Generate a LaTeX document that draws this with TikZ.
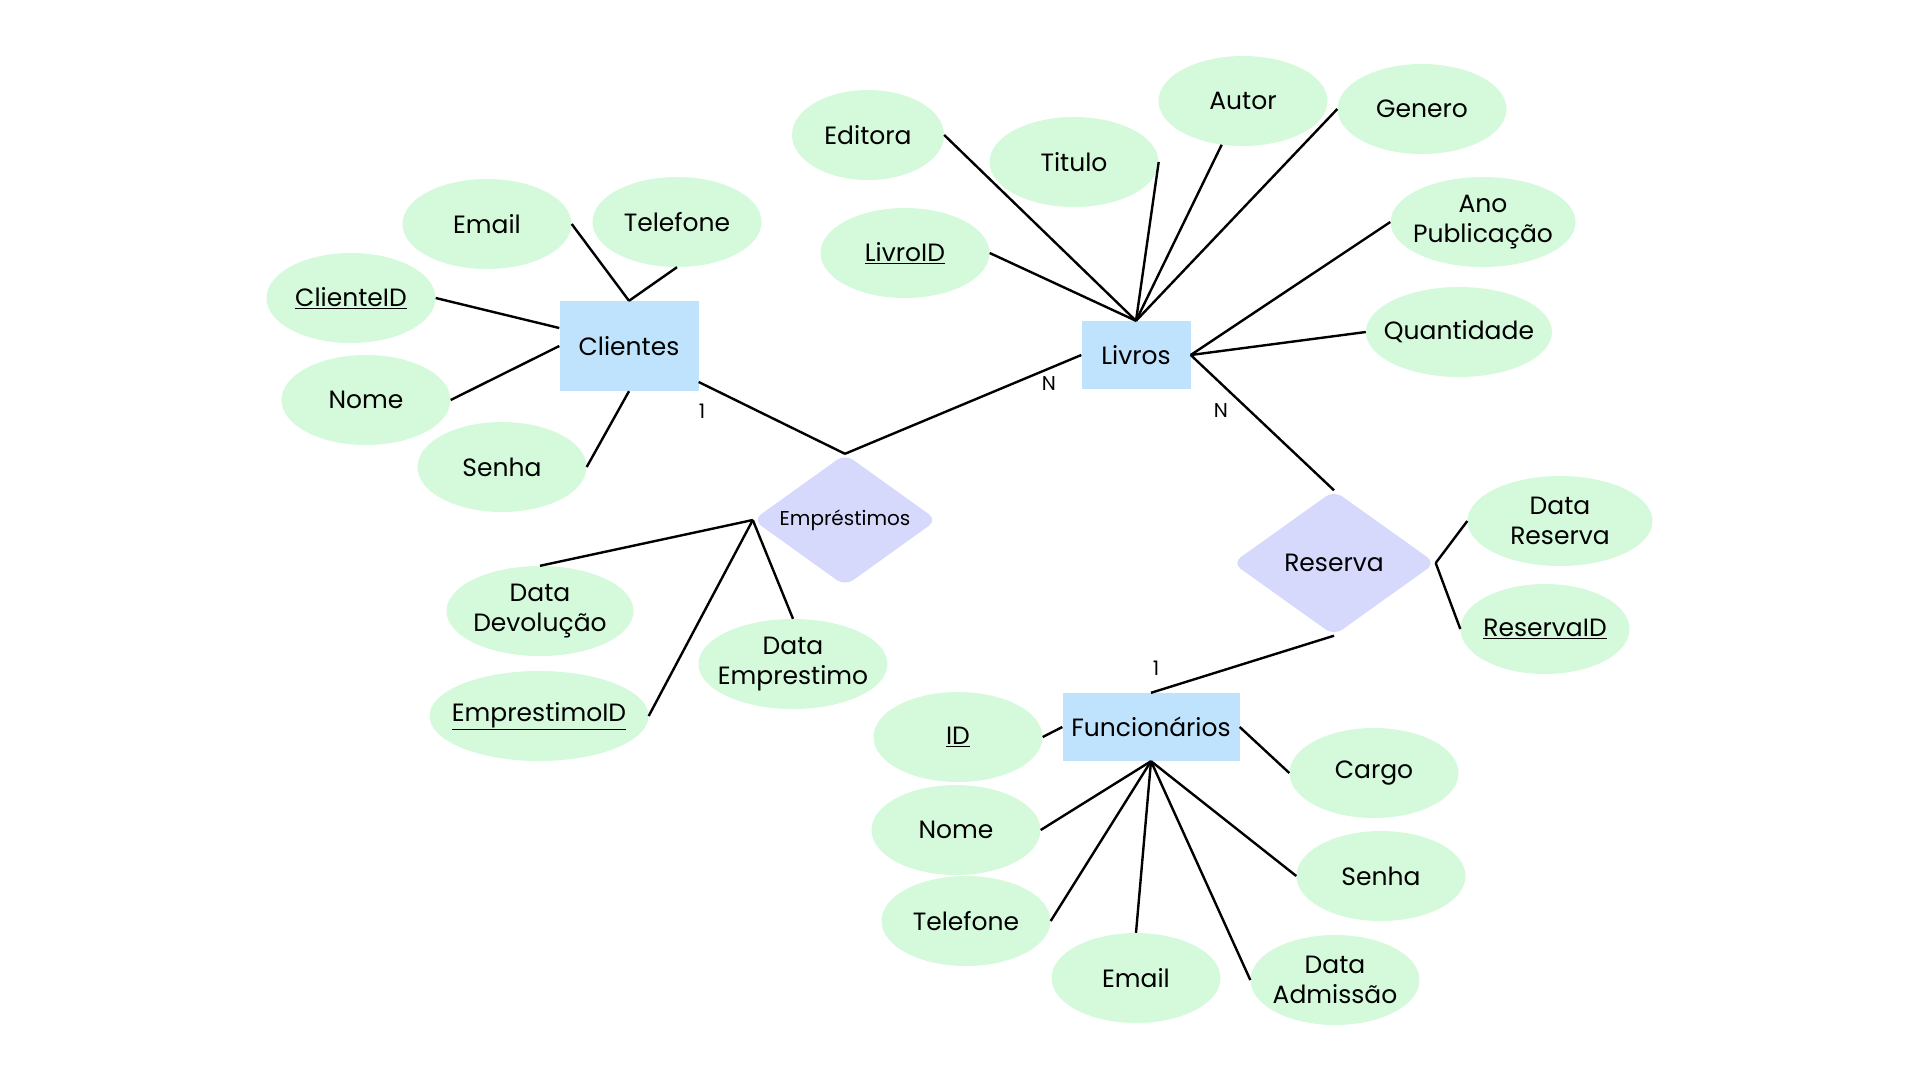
\documentclass[tikz,border=0pt]{standalone}
\usepackage{fontspec}
\setmainfont{Poppins}
\usetikzlibrary{calc, shapes.geometric}

\definecolor{attrgreen}{HTML}{D5FADB}
\definecolor{entityblue}{HTML}{BFE3FD}
\definecolor{relviolet}{HTML}{D6D9FC}

\newcommand{\erfont}{\fontsize{25}{30}\selectfont}
\newcommand{\smallerfont}{\fontsize{20}{24}\selectfont}

\begin{document}
\begin{tikzpicture}[x=1pt, y=-1pt, font=\erfont]
    \tikzstyle{entity} = [rectangle, fill=entityblue, inner sep=0pt]
    \tikzstyle{relation} = [diamond, aspect=1.4, fill=relviolet, rounded corners=10pt, inner sep=0pt]
    \tikzstyle{attribute} = [ellipse, fill=attrgreen, minimum width=169pt, minimum height=90pt,
        inner xsep=-25pt, inner ysep=0pt, align=center]
    \tikzstyle{cardinality} = [font=\smallerfont]
    \tikzstyle{connector} = [line width=2.4pt]

    \fill[white] (0, 0) rectangle (1920, 1080);

    % Entities ----------------------------------------
    \node (clientes) at (629, 346) [entity, minimum width=139pt, minimum height=90pt] {Clientes};
    \node (livros) at (1136, 355) [entity, minimum width=109pt, minimum height=68pt] {Livros};
    \node (funcionarios) at (1151, 727) [entity, minimum width=177pt, minimum height=68pt] {Funcionários};

    % Relationships
    \node (emprestimos) at (845, 520) [relation, minimum width=184pt, minimum height=132pt, font=\smallerfont] {Empréstimos};
    \node (reserva) at (1334, 563) [relation, minimum width=203pt, minimum height=145pt] {Reserva};
    % ---------------------------------------------------

    % Clientes attributes
    \node (cli_email) at (487, 224) [attribute] {Email};
    \node (cli_telefone) at (677, 222) [attribute] {Telefone};
    \node (cli_id) at (351, 298) [attribute] {\underline{ClienteID}};
    \node (cli_nome) at (366, 400) [attribute] {Nome};
    \node (cli_senha) at (502, 467) [attribute] {Senha};

    % Livros attributes
    \node (liv_editora) at (868, 135) [attribute, minimum width=152pt] {Editora};
    \node (liv_titulo) at (1074, 162) [attribute] {Titulo};
    \node (liv_autor) at (1243, 101) [attribute] {Autor};
    \node (liv_genero) at (1422, 109) [attribute] {Genero};
    \node (liv_id) at (905, 253) [attribute] {\underline{LivroID}};
    \node (liv_ano) at (1483, 222) [attribute, minimum width=185pt] {Ano\\Publicação};
    \node (liv_qtd) at (1459, 332) [attribute, minimum width=186pt] {Quantidade};

    % Reserva attributes
    \node (res_data) at (1560, 521) [attribute, minimum width=185pt] {Data\\Reserva};
    \node (res_id) at (1545, 629) [attribute] {\underline{ReservaID}};

    % Emprestimos attributes
    \node (emp_devolucao) at (540, 611) [attribute, minimum width=187pt] {Data\\Devolução};
    \node (emp_data) at (793, 664) [attribute, minimum width=189pt] {Data\\Emprestimo};
    \node (emp_id) at (539, 716) [attribute, minimum width=219pt] {\underline{EmprestimoID}};

    % Funcionarios attributes
    \node (fun_id) at (958, 737) [attribute] {\underline{ID}};
    \node (fun_nome) at (956, 830) [attribute] {Nome};
    \node (fun_telefone) at (966, 921) [attribute] {Telefone};
    \node (fun_email) at (1136, 978) [attribute] {Email};
    \node (fun_admissao) at (1335, 980) [attribute] {Data\\Admissão};
    \node (fun_senha) at (1381, 876) [attribute] {Senha};
    \node (fun_cargo) at (1374, 773) [attribute] {Cargo};

    % Attribute links
    \draw [connector] (cli_email.east) -- (clientes.north);
    \draw [connector] (cli_telefone.south) -- (clientes.north);
    \draw [connector] (cli_id.east) -- ($(clientes.west) + (0, -18)$);
    \draw [connector] (cli_nome.east) -- (clientes.west);
    \draw [connector] (cli_senha.east) -- (clientes.south);

    \draw [connector] (liv_editora.east) -- (livros.north);
    \draw [connector] (liv_titulo.east) -- (livros.north);
    \draw [connector] (liv_autor.244) -- (livros.north);
    \draw [connector] (liv_genero.west) -- (livros.north);
    \draw [connector] (liv_id.east) -- (livros.north);
    \draw [connector] (liv_ano.west) -- (livros.east);
    \draw [connector] (liv_qtd.west) -- (livros.east);

    \draw [connector] (res_data.west) -- (reserva.east);
    \draw [connector] (res_id.west) -- (reserva.east);

    \draw [connector] (emp_devolucao.north) -- (emprestimos.west);
    \draw [connector] (emp_data.north) -- (emprestimos.west);
    \draw [connector] (emp_id.east) -- (emprestimos.west);

    \draw [connector] (fun_id.east) -- (funcionarios.west);
    \draw [connector] (fun_cargo.west) -- (funcionarios.east);
    \draw [connector] (fun_nome.east) -- (funcionarios.south);
    \draw [connector] (fun_telefone.east) -- (funcionarios.south);
    \draw [connector] (fun_email.north) -- (funcionarios.south);
    \draw [connector] (fun_admissao.west) -- (funcionarios.south);
    \draw [connector] (fun_senha.west) -- (funcionarios.south);

    % Relationship links
    \draw [connector] ($(clientes.east) + (0, 36)$) -- (emprestimos.north);
    \draw [connector] (livros.west) -- (emprestimos.north);
    \draw [connector] (livros.east) -- (reserva.north);
    \draw [connector] (reserva.south) -- (funcionarios.north);

    \node (card_cli) at (702, 411) [cardinality] {1};
    \node (card_liv_emp) at (1049, 384) [cardinality] {N};
    \node (card_liv_res) at (1221, 411) [cardinality] {N};
    \node (card_fun) at (1156, 668) [cardinality] {1};
\end{tikzpicture}
\end{document}
